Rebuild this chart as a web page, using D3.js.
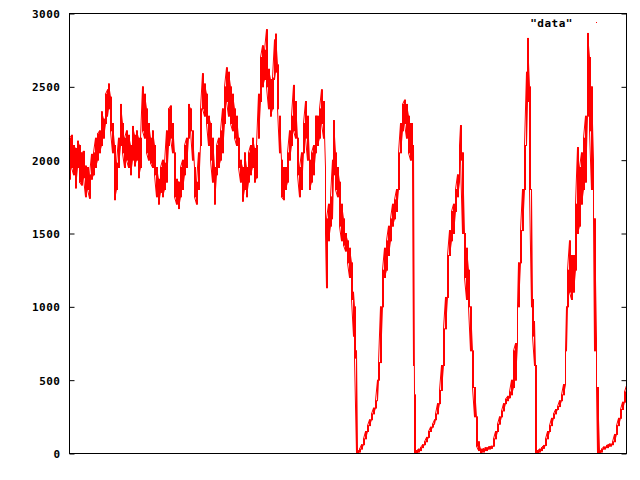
<!DOCTYPE html>
<html>
<head>
<meta charset="utf-8">
<script src="https://cdn.jsdelivr.net/npm/d3@7"></script>
<style>
html,body{margin:0;padding:0;background:#fff;}
svg{display:block;}
text{font-family:"DejaVu Sans Mono","Liberation Mono",monospace;font-weight:bold;font-size:11px;letter-spacing:0.5px;fill:#000;}
</style>
</head>
<body>
<svg id="chart" width="640" height="480"></svg>
<script>
// sample position (column index), lower and upper value in that column
const sampleT = [0,2,4,6,8,10,12,14,16,18,20,22,24,26,28,30,32,34,36,38,39,41,43,45,47,49,51,53,55,57,59,61,63,65,67,69,71,73,75,77,79,81,83,85,87,89,91,
 93,95,97,99,101,103,105,107,109,111,113,115,117,119,121,123,125,127,129,131,133,135,137,139,141,143,145,147,149,151,153,155,157,159,161,163,165,167,169,171,173,175,177,179,181,183,185,
 187,189,191,193,195,197,199,201,203,205,206,208,210,212,214,216,218,220,222,224,226,228,230,232,234,236,238,240,242,244,246,248,250,252,254,256,257,259,261,263,264,266,268,270,272,274,276,278,280,
 282,284,285,287,288,290,292,294,296,298,300,302,304,306,308,309,311,313,315,317,319,321,323,325,327,329,331,333,335,337,339,341,343,344,345,347,349,351,353,355,357,359,361,363,365,366,368,370,372,374,
 376,378,380,382,384,386,388,390,391,393,395,397,399,401,403,405,407,409,411,413,416,419,422,424,426,428,430,432,434,436,438,440,442,444,446,448,449,451,453,455,457,458,460,462,463,465,466,
 468,470,472,474,476,478,480,482,484,486,488,490,492,494,496,497,498,500,502,504,506,508,510,512,514,516,518,520,522,524,525,527,528,530,532,534,537,540,543,545,547,549,551,553,555,557];
const lowValues = [1870,1950,1900,1810,1950,1850,1830,1880,1750,1800,1740,1870,1900,1950,2000,2050,2100,2150,2250,2300,2350,2200,2050,1730,1800,1950,2100,2050,1950,2000,1950,1900,2000,1960,2000,1880,1950,2200,2150,2050,2000,1980,1950,1900,1750,1700,1780,
 1750,1800,1850,2100,2150,2050,1750,1700,1670,1750,1800,1900,1950,2150,2200,2000,1750,1700,1800,2100,2350,2300,2250,2100,2000,1850,1700,1900,1950,2000,2050,2250,2400,2300,2250,2200,2150,2100,1950,1850,1720,1800,1750,1850,1900,1950,1850,
 1880,2150,2400,2500,2550,2500,2350,2300,2350,2550,2600,2350,2050,1750,1730,1800,1850,2000,2100,2200,2150,1900,1750,1800,2050,2150,2000,1800,1850,1900,2050,2100,2150,2250,2150,1500,1130,1450,1550,1600,1900,1800,1750,1550,1450,1420,1380,1300,1200,
 1050,800,650,0,0,10,30,60,100,150,190,230,270,310,360,500,620,1000,1200,1250,1350,1450,1550,1600,1650,1800,2050,2200,2250,2150,2050,2000,1950,600,0,0,10,20,40,60,80,110,150,180,200,230,270,340,430,600,
 850,1064,1350,1450,1500,1650,1750,1850,2000,1500,1200,1050,1000,700,450,250,50,20,0,10,20,30,35,50,100,150,200,250,290,340,360,380,400,450,500,750,1000,1300,1520,1800,2100,2400,1800,1000,800,600,0,
 0,10,20,35,55,100,150,190,240,270,300,320,360,400,470,700,1000,1100,1050,1100,1250,1500,1550,1700,1800,1850,2300,2200,1800,1600,700,450,0,0,10,30,40,50,60,80,130,190,240,300,350,420];
const highValues = [2150,2170,2100,2080,2130,2100,2050,2060,1960,1950,1900,2040,2050,2150,2180,2200,2330,2280,2450,2480,2520,2430,2250,2100,1980,2150,2380,2250,2150,2200,2170,2100,2230,2170,2200,2150,2150,2500,2450,2350,2250,2150,2200,2100,1950,1870,1950,
 2000,1980,2200,2350,2370,2250,2050,1870,1850,1950,2000,2100,2150,2380,2350,2200,1950,1850,2050,2350,2590,2520,2450,2300,2250,2150,1950,2100,2150,2200,2350,2500,2630,2600,2500,2450,2350,2300,2150,2000,1950,2050,1950,2050,2100,2150,2080,
 2100,2450,2700,2780,2750,2890,2620,2550,2560,2820,2860,2650,2300,2000,1950,1950,2050,2200,2300,2510,2400,2150,1950,2050,2250,2400,2300,2000,2050,2100,2300,2300,2350,2480,2400,1950,1600,1700,1750,2000,2270,2050,1950,1850,1700,1600,1500,1450,1400,
 1300,1100,1000,700,20,30,60,100,150,190,230,270,310,360,500,620,1000,1250,1400,1450,1550,1600,1700,1730,1800,2050,2250,2380,2410,2380,2300,2250,2250,2100,400,20,30,40,60,80,110,150,180,200,230,270,340,430,600,850,
 1064,1350,1520,1650,1700,1800,1900,2100,2236,2050,1500,1400,1250,1000,700,450,250,80,30,30,40,45,50,100,150,200,250,290,340,370,390,420,500,700,750,1000,1300,1520,1800,2100,2600,2830,2500,1800,1050,900,600,
 20,30,40,55,100,150,190,240,270,300,320,360,400,470,700,1000,1250,1450,1350,1350,1700,2086,1950,2050,2150,2300,2864,2700,2500,2000,1600,780,450,20,30,45,55,65,80,130,190,240,300,350,420,464];
const yTicks = [0,500,1000,1500,2000,2500,3000];
const seriesName = "\"data\"";

const svg = d3.select("#chart");
const L = 69.5, R = 626.5, T = 13.5, B = 453.5;
const x = d3.scaleLinear().domain([0, 557]).range([L, R]);
const y = d3.scaleLinear().domain([0, 3000]).range([B, T]);

// y axis: ticks left and mirrored right, inward
svg.append("g").attr("transform", `translate(${L},0)`)
  .call(d3.axisLeft(y).tickValues(yTicks).tickSize(-5).tickPadding(9).tickFormat(d3.format("d")))
  .call(g => g.select(".domain").remove())
  .call(g => g.selectAll("text").attr("font-family", null).attr("font-size", null).attr("dy", "0.35em"));
svg.append("g").attr("transform", `translate(${R},0)`)
  .call(d3.axisRight(y).tickValues(yTicks).tickSize(-5).tickFormat(""))
  .call(g => g.select(".domain").remove());

// data: each sampled column as a filled vertical extent, plus a connecting trace
const cols = sampleT.map((t, i) => ({t, lo: lowValues[i], hi: highValues[i],
  t2: i < sampleT.length - 1 ? sampleT[i + 1] : t + 1}));
svg.append("g").selectAll("rect").data(cols).join("rect")
  .attr("x", d => x(d.t) - 0.5)
  .attr("width", d => Math.max(1, x(d.t2) - x(d.t)))
  .attr("y", d => y(d.hi) - 0.5)
  .attr("height", d => Math.max(1, y(d.lo) - y(d.hi) + 1))
  .attr("fill", "#ff0000");
const pts = [];
cols.forEach((c, i) => {
  if (i % 2 === 0) { pts.push([c.t, c.lo]); pts.push([c.t, c.hi]); }
  else { pts.push([c.t, c.hi]); pts.push([c.t, c.lo]); }
});
const line = d3.line().x(d => x(d[0])).y(d => y(d[1]));
svg.append("path").attr("d", line(pts)).attr("fill", "none").attr("stroke", "#ff0000").attr("stroke-width", 1);

// frame
svg.append("rect").attr("x", L).attr("y", T).attr("width", R - L).attr("height", B - T)
  .attr("fill", "none").attr("stroke", "#000").attr("stroke-width", 1);

// legend
svg.append("text").attr("x", 573).attr("y", 23).attr("dy", "0.35em").attr("text-anchor", "end").text(seriesName);
svg.append("rect").attr("x", 596).attr("y", 22).attr("width", 1).attr("height", 1).attr("fill", "#ff0000");
</script>
</body>
</html>
